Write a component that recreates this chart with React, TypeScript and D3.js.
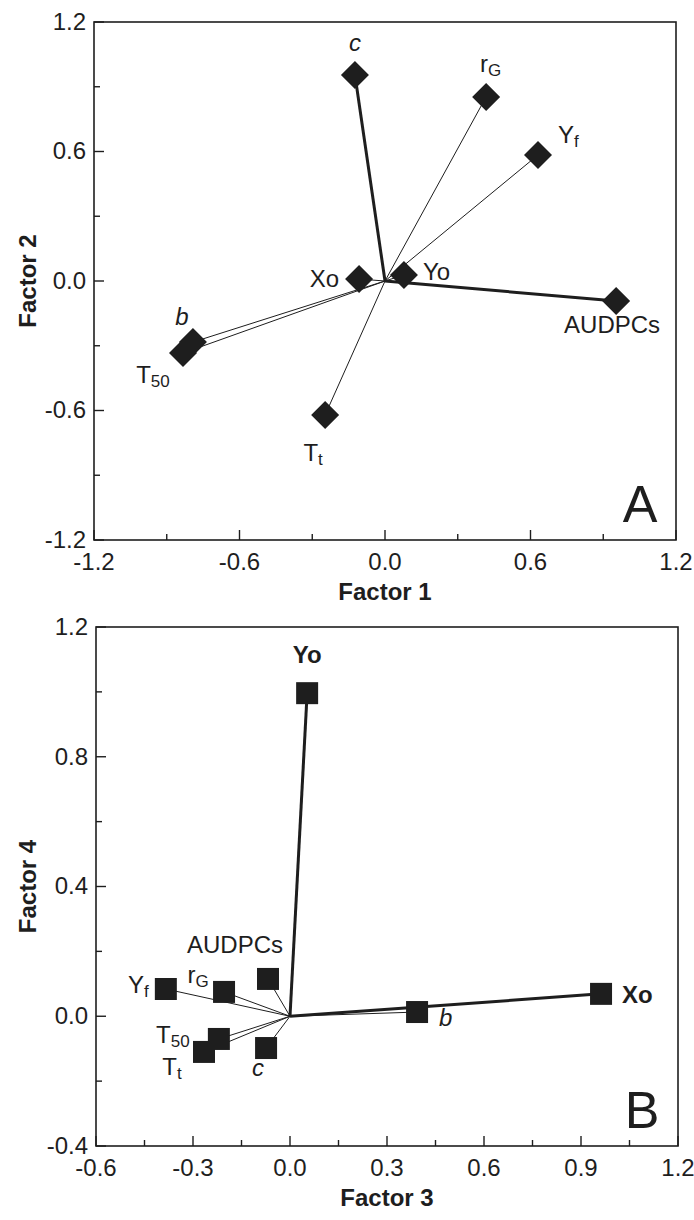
import React from "react";
import * as d3 from "d3";

// loadings
const namesA = ["c", "rG", "Yf", "Xo", "Yo", "AUDPCs", "b", "T50", "Tt"];
const factor1 = [-0.124, 0.417, 0.631, -0.107, 0.078, 0.953, -0.792, -0.833, -0.247];
const factor2 = [0.955, 0.853, 0.584, 0.009, 0.028, -0.093, -0.283, -0.334, -0.621];

const namesB = ["Yo", "Xo", "b", "Yf", "rG", "AUDPCs", "T50", "Tt", "c"];
const factor3 = [0.053, 0.962, 0.393, -0.384, -0.204, -0.068, -0.22, -0.266, -0.074];
const factor4 = [0.996, 0.069, 0.013, 0.084, 0.075, 0.115, -0.07, -0.11, -0.098];

const majorA = [-1.2, -0.6, 0, 0.6, 1.2];
const minorA = [-0.9, -0.3, 0.3, 0.9];
const majorBx = [-0.6, -0.3, 0, 0.3, 0.6, 0.9, 1.2];
const minorBx = [-0.45, -0.15, 0.15, 0.45, 0.75, 1.05];
const majorBy = [-0.4, 0, 0.4, 0.8, 1.2];
const minorBy = [-0.2, 0.2, 0.6, 1.0];

// main text + subscript
const labelText: Record<string, [string, string]> = {
  c: ["c", ""], rG: ["r", "G"], Yf: ["Y", "f"], Xo: ["Xo", ""], Yo: ["Yo", ""],
  AUDPCs: ["AUDPCs", ""], b: ["b", ""], T50: ["T", "50"], Tt: ["T", "t"],
};
const italicNames = ["c", "b"];

// label placement: anchor, dx, dy (px from marker centre)
const placeA: Record<string, [string, number, number]> = {
  c: ["middle", 0, -24], rG: ["start", -6, -25], Yf: ["start", 20, -12],
  Xo: ["end", -20, 8], Yo: ["start", 19, 5], AUDPCs: ["middle", -4, 32],
  b: ["middle", -11, -17], T50: ["middle", -30, 30], Tt: ["middle", -12, 46],
};
const placeB: Record<string, [string, number, number]> = {
  Yo: ["middle", 0, -30], Xo: ["start", 21, 9], b: ["start", 22, 14],
  Yf: ["end", -17, 4], rG: ["middle", -26, -9], AUDPCs: ["middle", -33, -26],
  T50: ["middle", -46, 4], Tt: ["middle", -32, 23], c: ["middle", -8, 28],
};

const ink = "#1e1e1e";
const font = "'Liberation Sans', Arial, sans-serif";
const fmt = (v: number) => d3.format(".1f")(v).replace("\u2212", "-");

type PanelProps = {
  names: string[]; xs: number[]; ys: number[];
  xDomain: [number, number]; yDomain: [number, number];
  box: { left: number; right: number; top: number; bottom: number };
  majorX: number[]; minorX: number[]; majorY: number[]; minorY: number[];
  xTitle: string; yTitle: string; letter: string;
  shape: "diamond" | "square"; thick: string[]; bold: string[];
  place: Record<string, [string, number, number]>;
};

function Panel(p: PanelProps) {
  const { box } = p;
  const x = d3.scaleLinear().domain(p.xDomain).range([box.left, box.right]);
  const y = d3.scaleLinear().domain(p.yDomain).range([box.bottom, box.top]);
  const sym = p.shape === "diamond"
    ? d3.symbol(d3.symbolSquare, 392)()
    : d3.symbol(d3.symbolSquare, 484)();
  const rot = p.shape === "diamond" ? 45 : 0;
  const x0 = x(0), y0 = y(0);
  const midX = (box.left + box.right) / 2;
  const midY = (box.top + box.bottom) / 2;

  return (
    <g fontFamily={font} fill={ink}>
      {p.names.map((n, i) => (
        <line key={"l" + n} x1={x0} y1={y0} x2={x(p.xs[i])} y2={y(p.ys[i])}
          stroke={ink} strokeWidth={p.thick.includes(n) ? 3 : 1} />
      ))}
      {p.names.map((n, i) => (
        <path key={"m" + n} d={sym!}
          transform={`translate(${x(p.xs[i])},${y(p.ys[i])}) rotate(${rot})`}
          fill={ink} />
      ))}
      {p.names.map((n, i) => {
        const [anchor, dx, dy] = p.place[n];
        const [main, sub] = labelText[n];
        return (
          <text key={"t" + n} x={x(p.xs[i]) + dx} y={y(p.ys[i]) + dy}
            textAnchor={anchor} fontSize={24}
            fontStyle={italicNames.includes(n) ? "italic" : "normal"}
            fontWeight={p.bold.includes(n) ? "bold" : "normal"}>
            {main}
            {sub && <tspan fontSize={17} dy={4}>{sub}</tspan>}
          </text>
        );
      })}
      <rect x={box.left} y={box.top} width={box.right - box.left}
        height={box.bottom - box.top} fill="none" stroke={ink} strokeWidth={1.6} />
      {p.majorX.map((t) => (
        <g key={"mx" + t}>
          <line x1={x(t)} x2={x(t)} y1={box.bottom} y2={box.bottom - 10} stroke={ink} strokeWidth={1.4} />
          <text x={x(t)} y={box.bottom + 30} textAnchor="middle" fontSize={24}>{fmt(t)}</text>
        </g>
      ))}
      {p.minorX.map((t) => (
        <line key={"nx" + t} x1={x(t)} x2={x(t)} y1={box.bottom} y2={box.bottom - 6} stroke={ink} strokeWidth={1.4} />
      ))}
      {p.majorY.map((t) => (
        <g key={"my" + t}>
          <line x1={box.left} x2={box.left + 10} y1={y(t)} y2={y(t)} stroke={ink} strokeWidth={1.4} />
          <text x={box.left - 8} y={y(t)} dy="0.33em" textAnchor="end" fontSize={24}>{fmt(t)}</text>
        </g>
      ))}
      {p.minorY.map((t) => (
        <line key={"ny" + t} x1={box.left} x2={box.left + 6} y1={y(t)} y2={y(t)} stroke={ink} strokeWidth={1.4} />
      ))}
      <text x={midX} y={box.bottom + 60} textAnchor="middle" fontSize={24} fontWeight="bold">{p.xTitle}</text>
      <text transform={`translate(36,${midY}) rotate(-90)`} textAnchor="middle" fontSize={24} fontWeight="bold">{p.yTitle}</text>
      <text x={box.right - 36} y={box.bottom - 18} textAnchor="middle" fontSize={52}>{p.letter}</text>
    </g>
  );
}

export default function App() {
  return (
    <svg width={694} height={1220} style={{ position: "absolute", left: 0, top: 0, background: "#fff" }}>
      <rect width={694} height={1220} fill="#fff" />
      <Panel names={namesA} xs={factor1} ys={factor2}
        xDomain={[-1.2, 1.2]} yDomain={[-1.2, 1.2]}
        box={{ left: 94, right: 676, top: 22, bottom: 540 }}
        majorX={majorA} minorX={minorA} majorY={majorA} minorY={minorA}
        xTitle="Factor 1" yTitle="Factor 2" letter="A" shape="diamond"
        thick={["c", "AUDPCs"]} bold={[]} place={placeA} />
      <Panel names={namesB} xs={factor3} ys={factor4}
        xDomain={[-0.6, 1.2]} yDomain={[-0.4, 1.2]}
        box={{ left: 96, right: 678, top: 627, bottom: 1146 }}
        majorX={majorBx} minorX={minorBx} majorY={majorBy} minorY={minorBy}
        xTitle="Factor 3" yTitle="Factor 4" letter="B" shape="square"
        thick={["Yo", "Xo"]} bold={["Yo", "Xo"]} place={placeB} />
    </svg>
  );
}
